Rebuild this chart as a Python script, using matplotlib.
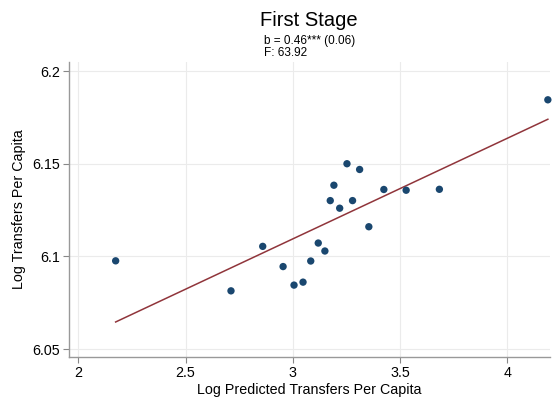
import matplotlib
matplotlib.use("Agg")
import matplotlib.pyplot as plt
import numpy as np

plt.rcParams['font.family'] = ['Liberation Sans', 'DejaVu Sans']

# binned scatter values
x_pred = [2.174, 2.712, 2.860, 2.955, 3.006, 3.048, 3.084, 3.119, 3.150, 3.175,
          3.192, 3.219, 3.253, 3.279, 3.312, 3.355, 3.425, 3.529, 3.684, 4.190]
y_trans = [6.0976, 6.0814, 6.1054, 6.0945, 6.0845, 6.0861, 6.0975, 6.1072, 6.1029, 6.1301,
           6.1384, 6.1260, 6.1500, 6.1301, 6.1469, 6.1160, 6.1361, 6.1357, 6.1362, 6.1845]

# fitted line end points
fit_x = [2.174, 4.190]
fit_y = [6.0646, 6.1740]

xticks = [2, 2.5, 3, 3.5, 4]
yticks = [6.05, 6.1, 6.15, 6.2]

navy = '#1a476f'
maroon = '#90353b'

fig = plt.figure(figsize=(5.53, 4.01), dpi=100)
ax = fig.add_axes([68.7/553, 1 - 357/401, (550 - 68.7)/553, (357 - 62)/401])

ax.grid(True, color='#ebebeb', linewidth=0.8, zorder=0)
ax.plot(fit_x, fit_y, color=maroon, linewidth=1.1, zorder=2)
ax.scatter(x_pred, y_trans, s=28, color=navy, edgecolors='none', zorder=3, clip_on=False)

ax.set_xlim(1.955, 4.2)
ax.set_ylim(6.0457, 6.2049)
ax.set_xticks(xticks)
ax.set_xticklabels(['2', '2.5', '3', '3.5', '4'])
ax.set_yticks(yticks)
ax.set_yticklabels(['6.05', '6.1', '6.15', '6.2'])
ax.tick_params(axis='both', colors='#888888', labelcolor='black', labelsize=10.3,
               length=4, width=0.8, pad=2.5)

for s in ['top', 'right']:
    ax.spines[s].set_visible(False)
for s in ['left', 'bottom']:
    ax.spines[s].set_color('#999999')
    ax.spines[s].set_linewidth(1.0)

ax.set_xlabel('Log Predicted Transfers Per Capita', fontsize=10.3, labelpad=2)
ax.set_ylabel('Log Transfers Per Capita', fontsize=10.3, labelpad=4)

fig.text(309/553, 1 - 20/401, 'First Stage', ha='center', va='center', fontsize=14.5)
fig.text(264/553, 1 - 41/401, 'b = 0.46*** (0.06)', ha='left', va='center', fontsize=8.5)
fig.text(264/553, 1 - 53/401, 'F: 63.92', ha='left', va='center', fontsize=8.5)

fig.savefig('out.png', dpi=100)
